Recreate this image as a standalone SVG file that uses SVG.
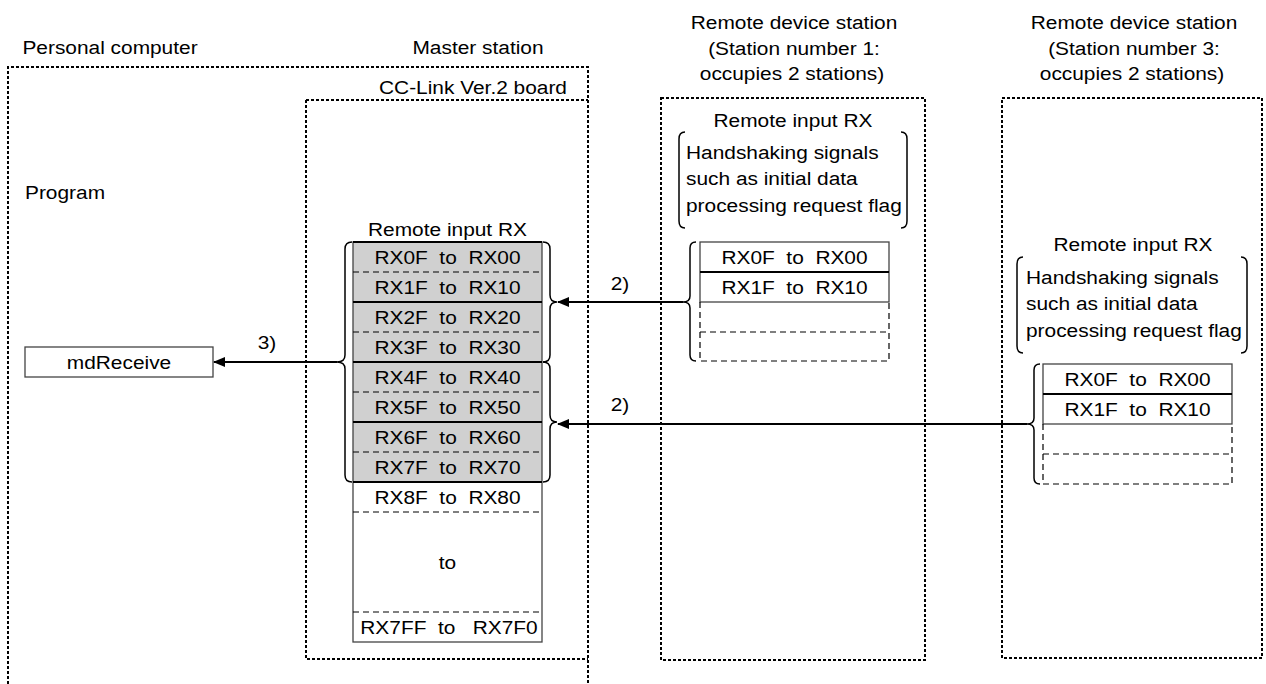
<svg xmlns="http://www.w3.org/2000/svg" width="1266" height="684" viewBox="0 0 1266 684">
<style>
text{font-family:"Liberation Sans",Arial,sans-serif;font-size:18px;fill:#000}
.c{text-anchor:middle}
.l{text-anchor:start}
.dot{fill:none;stroke:#000;stroke-width:2;stroke-dasharray:3 2}
.box{fill:none;stroke:#444;stroke-width:1.3}
.gray{fill:#d0d0d0;stroke:none}
.sl{stroke:#000;stroke-width:2}
.dl{stroke:#000;stroke-width:1.2;stroke-dasharray:6 4;fill:none}
.br{fill:none;stroke:#000;stroke-width:1.5}
.arr{fill:none;stroke:#000;stroke-width:2;marker-end:url(#ah)}
</style>
<defs>
<marker id="ah" viewBox="0 0 12 10" refX="11" refY="5" markerWidth="12" markerHeight="10" markerUnits="userSpaceOnUse" orient="auto">
<path d="M0,0 L12,5 L0,10 Z" fill="#000"/>
</marker>
</defs>

<g id="personal-computer">
<path class="dot" d="M8,684 V67 H588 V684"/>
<text class="c" transform="translate(110,54) scale(1.16,1)">Personal computer</text>
<text class="l" transform="translate(25,199) scale(1.16,1)">Program</text>
</g>

<g id="mdReceive">
<rect class="box" x="25" y="347" width="188" height="30"/>
<text class="c" transform="translate(119,369) scale(1.16,1)">mdReceive</text>
</g>

<g id="master-station">
<text class="c" transform="translate(478,54) scale(1.16,1)">Master station</text>
<path class="dot" d="M306,100 H588 M306,100 V659 H588"/>
<text class="c" transform="translate(473,94) scale(1.16,1)">CC-Link Ver.2 board</text>
</g>

<g id="master-rx">
<text class="c" transform="translate(447.5,236) scale(1.16,1)">Remote input RX</text>
<rect class="gray" x="353" y="242" width="189" height="240"/>
<rect class="box" x="353" y="242" width="189" height="400"/>
<line class="sl" x1="353" y1="242" x2="542" y2="242"/>
<line class="dl" x1="353" y1="272" x2="542" y2="272"/>
<line class="sl" x1="353" y1="302" x2="542" y2="302"/>
<line class="dl" x1="353" y1="332" x2="542" y2="332"/>
<line class="sl" x1="353" y1="362" x2="542" y2="362"/>
<line class="dl" x1="353" y1="392" x2="542" y2="392"/>
<line class="sl" x1="353" y1="422" x2="542" y2="422"/>
<line class="dl" x1="353" y1="452" x2="542" y2="452"/>
<line class="sl" x1="353" y1="482" x2="542" y2="482"/>
<line class="dl" x1="353" y1="512" x2="542" y2="512"/>
<line class="dl" x1="353" y1="612" x2="542" y2="612"/>
<text class="c" transform="translate(447.5,264) scale(1.16,1)">RX0F&#160;&#160;to&#160;&#160;RX00</text>
<text class="c" transform="translate(447.5,294) scale(1.16,1)">RX1F&#160;&#160;to&#160;&#160;RX10</text>
<text class="c" transform="translate(447.5,324) scale(1.16,1)">RX2F&#160;&#160;to&#160;&#160;RX20</text>
<text class="c" transform="translate(447.5,354) scale(1.16,1)">RX3F&#160;&#160;to&#160;&#160;RX30</text>
<text class="c" transform="translate(447.5,384) scale(1.16,1)">RX4F&#160;&#160;to&#160;&#160;RX40</text>
<text class="c" transform="translate(447.5,414) scale(1.16,1)">RX5F&#160;&#160;to&#160;&#160;RX50</text>
<text class="c" transform="translate(447.5,444) scale(1.16,1)">RX6F&#160;&#160;to&#160;&#160;RX60</text>
<text class="c" transform="translate(447.5,474) scale(1.16,1)">RX7F&#160;&#160;to&#160;&#160;RX70</text>
<text class="c" transform="translate(447.5,504) scale(1.16,1)">RX8F&#160;&#160;to&#160;&#160;RX80</text>
<text class="c" transform="translate(447.5,569) scale(1.16,1)">to</text>
<text class="c" transform="translate(449,634) scale(1.16,1)">RX7FF&#160;&#160;to&#160;&#160;&#160;RX7F0</text>
<path class="br" d="M352,242 q-7,0 -7,7 V355 q0,7 -8,7 q8,0 8,7 V475 q0,7 7,7"/>
<path class="br" d="M543,242 q7,0 7,7 V295 q0,7 7,7 q-7,0 -7,7 V355 q0,7 -7,7"/>
<path class="br" d="M543,362 q7,0 7,7 V415 q0,7 7,7 q-7,0 -7,7 V475 q0,7 -7,7"/>
</g>

<g id="remote-station-1">
<text class="c" transform="translate(794,29) scale(1.16,1)">Remote device station</text>
<text class="c" transform="translate(794,55) scale(1.16,1)">(Station number 1:</text>
<text class="c" transform="translate(792,80) scale(1.16,1)">occupies 2 stations)</text>
<rect class="dot" x="661" y="98" width="264" height="562"/>
<text class="c" transform="translate(793,127) scale(1.16,1)">Remote input RX</text>
<path class="br" d="M685,132 q-6,0 -6,7 V221 q0,7 6,7"/>
<path class="br" d="M901,132 q6,0 6,7 V221 q0,7 -6,7"/>
<text class="l" transform="translate(686,159) scale(1.16,1)">Handshaking signals</text>
<text class="l" transform="translate(686,185) scale(1.16,1)">such as initial data</text>
<text class="l" transform="translate(686,212) scale(1.16,1)">processing request flag</text>
<rect class="box" x="700" y="242" width="189" height="60" stroke="#000"/>
<line class="sl" x1="700" y1="272" x2="889" y2="272"/>
<path class="dl" d="M700,302 V361 H889 V302 M700,332 H889"/>
<text class="c" transform="translate(794.5,264) scale(1.16,1)">RX0F&#160;&#160;to&#160;&#160;RX00</text>
<text class="c" transform="translate(794.5,294) scale(1.16,1)">RX1F&#160;&#160;to&#160;&#160;RX10</text>
<path class="br" d="M696,242 q-6,0 -6,6 V296 q0,6 -7,6 q7,0 7,6 V355 q0,6 6,6"/>
</g>

<g id="remote-station-3">
<text class="c" transform="translate(1134,29) scale(1.16,1)">Remote device station</text>
<text class="c" transform="translate(1134,55) scale(1.16,1)">(Station number 3:</text>
<text class="c" transform="translate(1132,80) scale(1.16,1)">occupies 2 stations)</text>
<rect class="dot" x="1002" y="98" width="260" height="560"/>
<text class="c" transform="translate(1133,251) scale(1.16,1)">Remote input RX</text>
<path class="br" d="M1023,257 q-6,0 -6,7 V346 q0,7 6,7"/>
<path class="br" d="M1241,257 q6,0 6,7 V346 q0,7 -6,7"/>
<text class="l" transform="translate(1026,284) scale(1.16,1)">Handshaking signals</text>
<text class="l" transform="translate(1026,310) scale(1.16,1)">such as initial data</text>
<text class="l" transform="translate(1026,337) scale(1.16,1)">processing request flag</text>
<rect class="box" x="1043" y="364" width="189" height="60" stroke="#000"/>
<line class="sl" x1="1043" y1="394" x2="1232" y2="394"/>
<path class="dl" d="M1043,424 V484 H1232 V424 M1043,454 H1232"/>
<text class="c" transform="translate(1137.5,386) scale(1.16,1)">RX0F&#160;&#160;to&#160;&#160;RX00</text>
<text class="c" transform="translate(1137.5,416) scale(1.16,1)">RX1F&#160;&#160;to&#160;&#160;RX10</text>
<path class="br" d="M1040,364 q-6,0 -6,6 V418 q0,6 -7,6 q7,0 7,6 V478 q0,6 6,6"/>
</g>

<g id="connectors">
<line class="arr" x1="337" y1="362" x2="214" y2="362"/>
<text class="c" transform="translate(267,349) scale(1.16,1)">3)</text>
<line class="arr" x1="683" y1="302" x2="558" y2="302"/>
<text class="c" transform="translate(620,290) scale(1.16,1)">2)</text>
<line class="arr" x1="1027" y1="424" x2="558" y2="424"/>
<text class="c" transform="translate(620,411) scale(1.16,1)">2)</text>
</g>
</svg>
